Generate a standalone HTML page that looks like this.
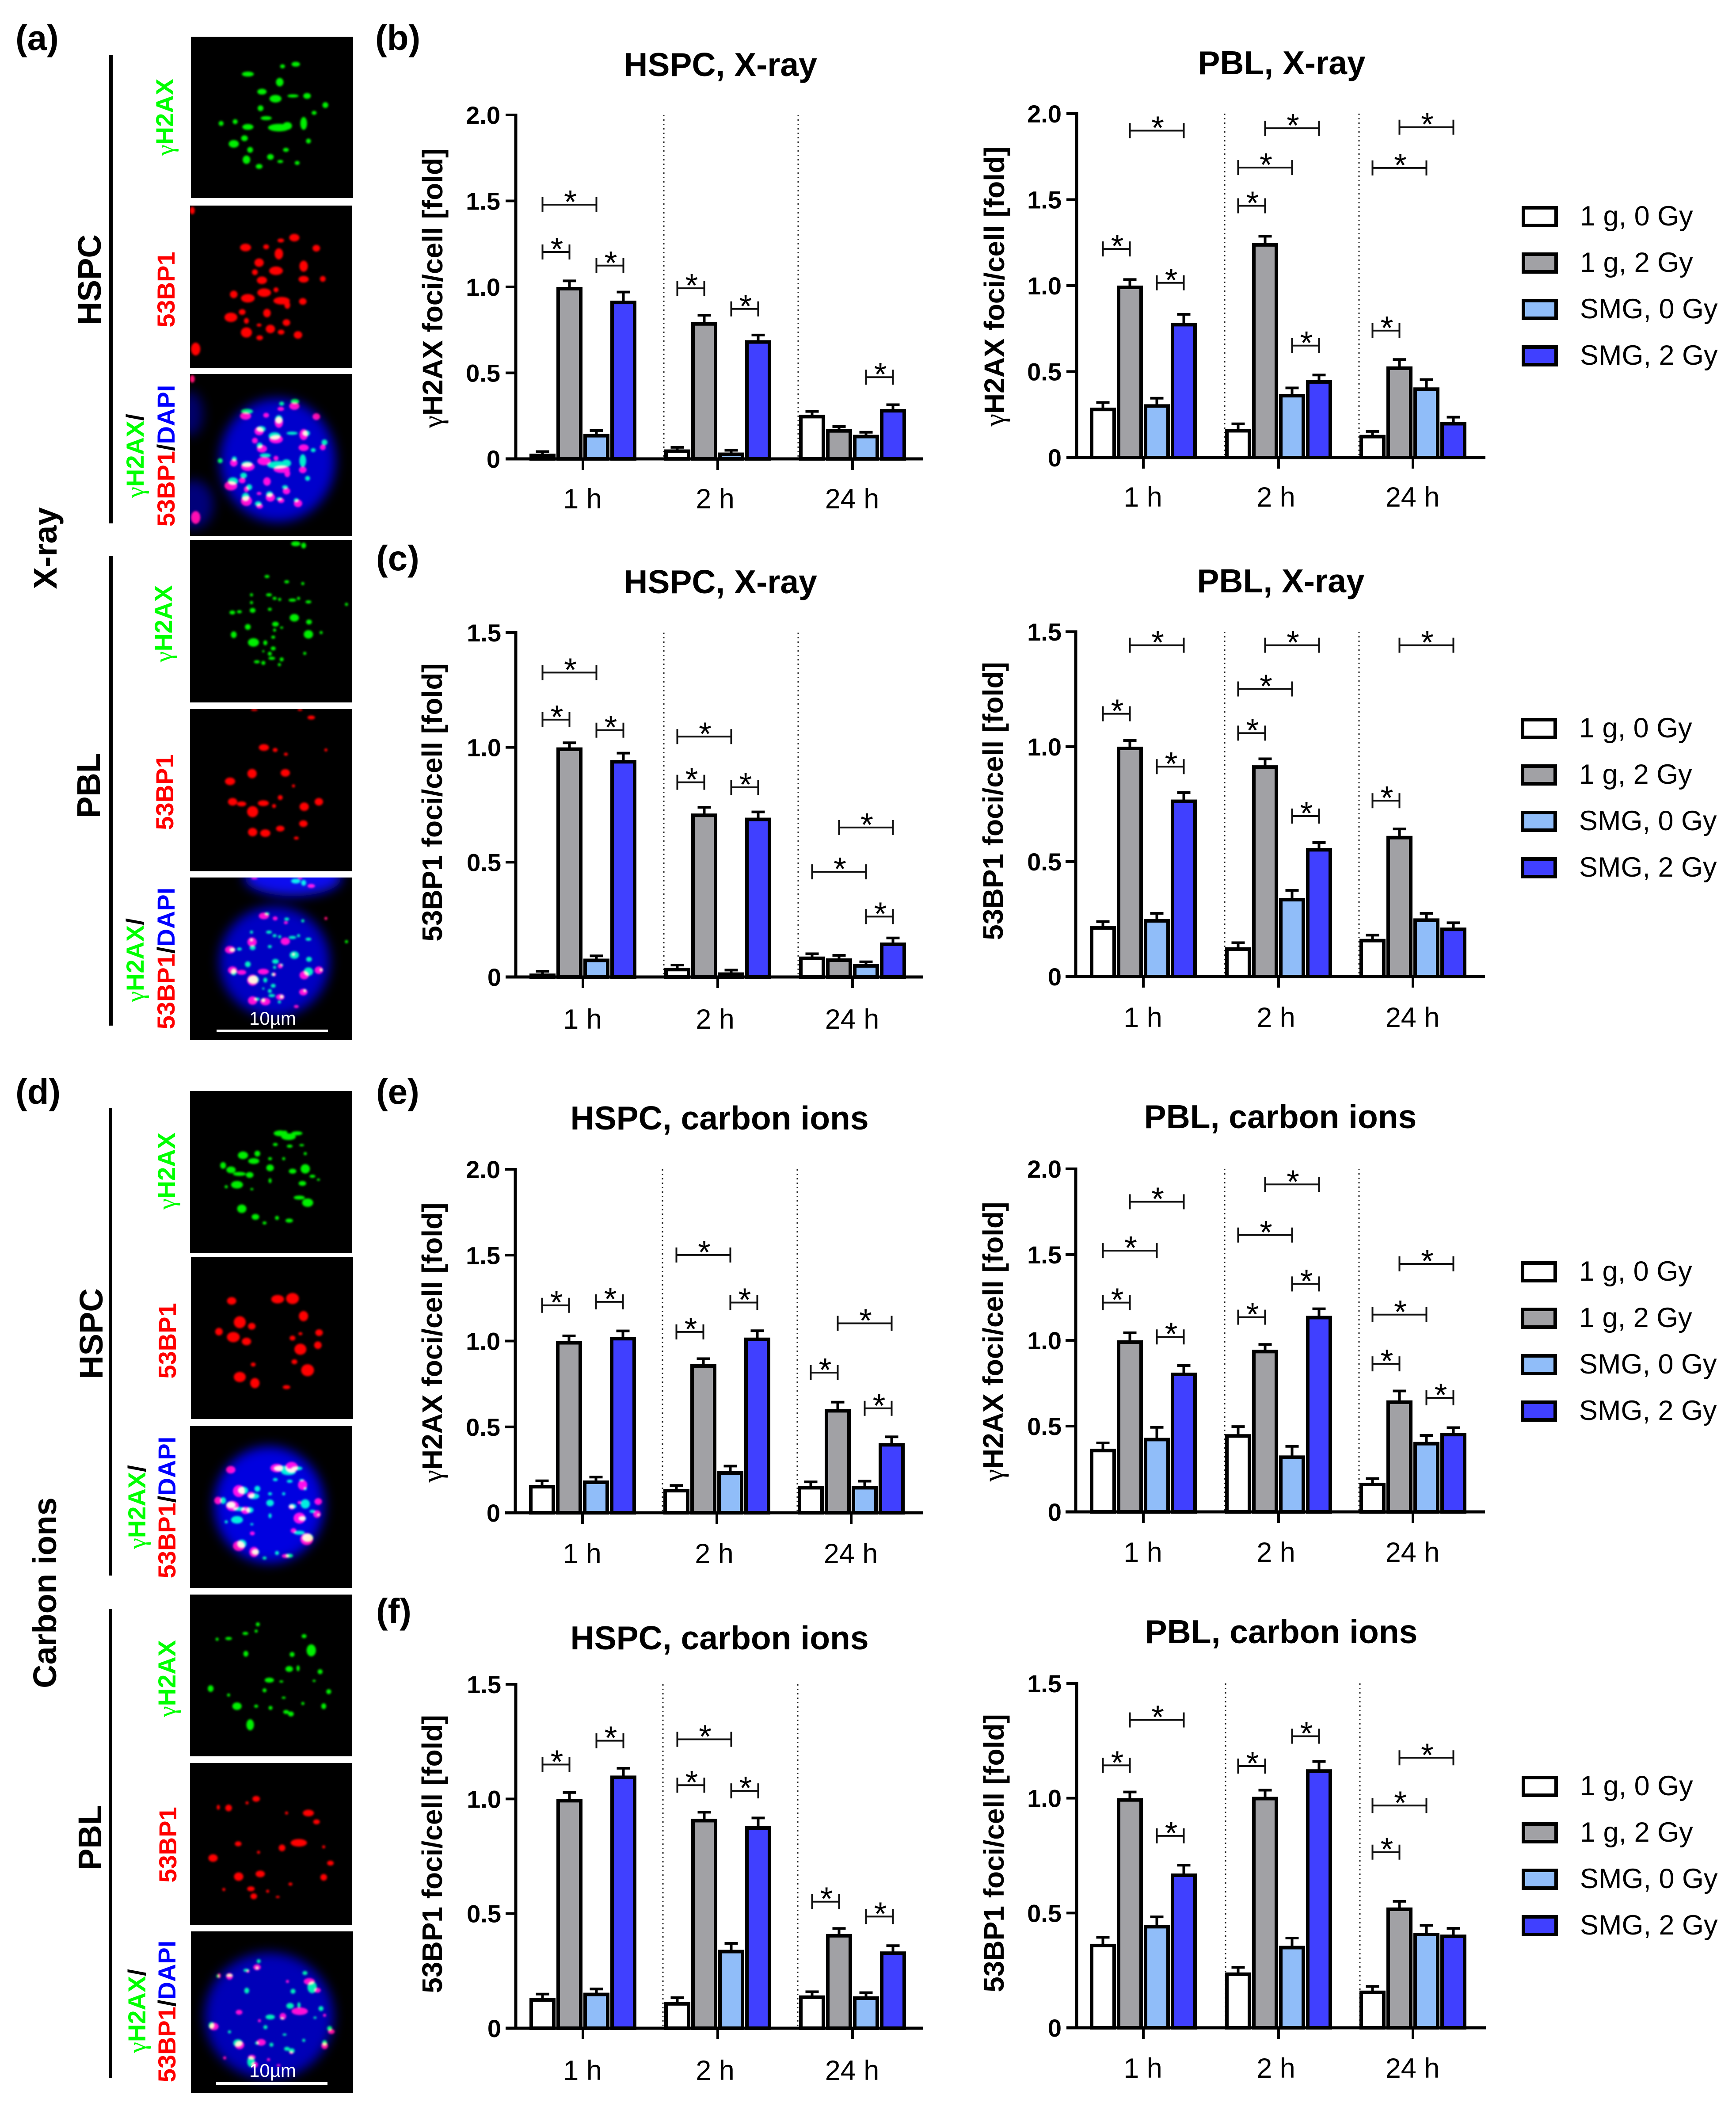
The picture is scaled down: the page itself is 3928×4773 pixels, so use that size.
<!DOCTYPE html>
<html lang="en">
<head>
<meta charset="utf-8">
<title>Foci per cell figure</title>
<style>
html,body{margin:0;padding:0;background:#fff}
svg{display:block}
text{font-family:"Liberation Sans",sans-serif;fill:#000}
.b{font-weight:700}
.g{font-family:"Liberation Serif",serif;font-weight:400}
.side{font-size:74px;font-weight:700}
.il{font-size:56px;font-weight:700}
.pl{font-size:80px;font-weight:700}
</style>
</head>
<body>
<svg id="fig" xmlns="http://www.w3.org/2000/svg" width="3928" height="4773" viewBox="0 0 3928 4773">
<defs>
<filter id="soft" x="-10%" y="-10%" width="120%" height="120%"><feGaussianBlur stdDeviation="2.4"/></filter>
<filter id="nuc" x="-30%" y="-30%" width="160%" height="160%"><feGaussianBlur stdDeviation="13"/></filter>
</defs>
<rect width="3928" height="4773" fill="#fff"/>

<text class="pl" x="35" y="113">(a)</text>
<text class="pl" x="849" y="113">(b)</text>
<text class="pl" x="851" y="1290">(c)</text>
<text class="pl" x="35" y="2497">(d)</text>
<text class="pl" x="851" y="2497">(e)</text>
<text class="pl" x="851" y="3672">(f)</text>

<text class="side" text-anchor="middle" transform="translate(128,1240) rotate(-90)">X-ray</text>
<text class="side" text-anchor="middle" transform="translate(127,3603) rotate(-90)">Carbon ions</text>
<text class="side" text-anchor="middle" transform="translate(228,633) rotate(-90)">HSPC</text>
<text class="side" text-anchor="middle" transform="translate(226,1777) rotate(-90)">PBL</text>
<text class="side" text-anchor="middle" transform="translate(232,3017) rotate(-90)">HSPC</text>
<text class="side" text-anchor="middle" transform="translate(229,4157) rotate(-90)">PBL</text>

<rect x="247" y="124" width="8" height="1060" fill="#000"/>
<rect x="247" y="1258" width="8" height="1062" fill="#000"/>
<rect x="246" y="2506" width="7" height="1058" fill="#000"/>
<rect x="246" y="3640" width="7" height="1060" fill="#000"/>

<g id="micro"></g>

<g class="il">
<text style="fill:#00ff00" text-anchor="middle" transform="translate(392,265) rotate(-90)"><tspan class="g" style="fill:#00ff00">γ</tspan>H2AX</text>
<text style="fill:#ff0000" text-anchor="middle" transform="translate(395,655) rotate(-90)">53BP1</text>
<text style="fill:#00ff00" text-anchor="middle" transform="translate(325,1031) rotate(-90)"><tspan class="g" style="fill:#00ff00">γ</tspan>H2AX<tspan style="fill:#000">/</tspan></text>
<text text-anchor="middle" transform="translate(395,1031) rotate(-90)"><tspan style="fill:#ff0000">53BP1</tspan>/<tspan style="fill:#0000ff">DAPI</tspan></text>

<text style="fill:#00ff00" text-anchor="middle" transform="translate(389,1411) rotate(-90)"><tspan class="g" style="fill:#00ff00">γ</tspan>H2AX</text>
<text style="fill:#ff0000" text-anchor="middle" transform="translate(392,1792) rotate(-90)">53BP1</text>
<text style="fill:#00ff00" text-anchor="middle" transform="translate(325,2172) rotate(-90)"><tspan class="g" style="fill:#00ff00">γ</tspan>H2AX<tspan style="fill:#000">/</tspan></text>
<text text-anchor="middle" transform="translate(395,2168) rotate(-90)"><tspan style="fill:#ff0000">53BP1</tspan>/<tspan style="fill:#0000ff">DAPI</tspan></text>

<text style="fill:#00ff00" text-anchor="middle" transform="translate(396,2649) rotate(-90)"><tspan class="g" style="fill:#00ff00">γ</tspan>H2AX</text>
<text style="fill:#ff0000" text-anchor="middle" transform="translate(398,3033) rotate(-90)">53BP1</text>
<text style="fill:#00ff00" text-anchor="middle" transform="translate(329,3409) rotate(-90)"><tspan class="g" style="fill:#00ff00">γ</tspan>H2AX<tspan style="fill:#000">/</tspan></text>
<text text-anchor="middle" transform="translate(397,3410) rotate(-90)"><tspan style="fill:#ff0000">53BP1</tspan>/<tspan style="fill:#0000ff">DAPI</tspan></text>

<text style="fill:#00ff00" text-anchor="middle" transform="translate(397,3797) rotate(-90)"><tspan class="g" style="fill:#00ff00">γ</tspan>H2AX</text>
<text style="fill:#ff0000" text-anchor="middle" transform="translate(399,4173) rotate(-90)">53BP1</text>
<text style="fill:#00ff00" text-anchor="middle" transform="translate(329,4549) rotate(-90)"><tspan class="g" style="fill:#00ff00">γ</tspan>H2AX<tspan style="fill:#000">/</tspan></text>
<text text-anchor="middle" transform="translate(397,4550) rotate(-90)"><tspan style="fill:#ff0000">53BP1</tspan>/<tspan style="fill:#0000ff">DAPI</tspan></text>
</g>

<g id="charts"></g>

<rect x="490" y="2329" width="252" height="6" fill="#fff"/>
<text x="564" y="2318" font-size="42" style="fill:#fff">10µm</text>
<rect x="489" y="4710" width="252" height="6" fill="#fff"/>
<text x="564" y="4698" font-size="42" style="fill:#fff">10µm</text>
</svg>

<script>
// ---- shared categories and tick labels ----
const timeCategories = ['1 h', '2 h', '24 h'];
const seriesLabels = ['1 g, 0 Gy', '1 g, 2 Gy', 'SMG, 0 Gy', 'SMG, 2 Gy'];
const ticksTwo = [0, 0.5, 1, 1.5, 2];
const tickLabelsTwo = ['0', '0.5', '1.0', '1.5', '2.0'];
const ticksOneHalf = [0, 0.5, 1, 1.5];
const tickLabelsOneHalf = ['0', '0.5', '1.0', '1.5'];

// ---- (b) HSPC X-ray, gamma-H2AX ----
const bLeft1g0 = [0.03, 0.055, 0.256];
const bLeft1g2 = [1.0, 0.795, 0.173];
const bLeftSmg0 = [0.145, 0.037, 0.14];
const bLeftSmg2 = [0.92, 0.69, 0.29];
const bLeftErr1g0 = [0.012, 0.012, 0.02];
const bLeftErr1g2 = [0.035, 0.04, 0.015];
const bLeftErrSmg0 = [0.02, 0.013, 0.015];
const bLeftErrSmg2 = [0.05, 0.03, 0.025];
const bLeftBrackets = [[0,0,2,1.478],[0,0,1,1.203],[0,2,3,1.124],[1,0,1,0.992],[1,2,3,0.872],[2,2,3,0.475]];

// ---- (b) PBL X-ray, gamma-H2AX ----
const bRight1g0 = [0.29, 0.166, 0.132];
const bRight1g2 = [1.0, 1.247, 0.53];
const bRightSmg0 = [0.31, 0.37, 0.408];
const bRightSmg2 = [0.783, 0.45, 0.207];
const bRightErr1g0 = [0.03, 0.03, 0.02];
const bRightErr1g2 = [0.035, 0.04, 0.04];
const bRightErrSmg0 = [0.035, 0.035, 0.045];
const bRightErrSmg2 = [0.05, 0.03, 0.028];
const bRightBrackets = [[0,1,3,1.901],[0,0,1,1.213],[0,2,3,1.016],[1,1,3,1.915],[1,0,2,1.686],[1,0,1,1.464],[1,2,3,0.651],[2,1,3,1.921],[2,0,2,1.684],[2,0,1,0.738]];

// ---- (c) HSPC X-ray, 53BP1 ----
const cLeft1g0 = [0.015, 0.04, 0.089];
const cLeft1g2 = [1.0, 0.712, 0.081];
const cLeftSmg0 = [0.08, 0.02, 0.056];
const cLeftSmg2 = [0.945, 0.694, 0.15];
const cLeftErr1g0 = [0.01, 0.012, 0.012];
const cLeftErr1g2 = [0.02, 0.027, 0.013];
const cLeftErrSmg0 = [0.012, 0.01, 0.01];
const cLeftErrSmg2 = [0.03, 0.025, 0.02];
const cLeftBrackets = [[0,0,2,1.326],[0,0,1,1.121],[0,2,3,1.075],[1,0,2,1.047],[1,0,1,0.848],[1,2,3,0.826],[2,1,3,0.651],[2,0,2,0.458],[2,2,3,0.263]];

// ---- (c) PBL X-ray, 53BP1 ----
const cRight1g0 = [0.219, 0.127, 0.164];
const cRight1g2 = [1.0, 0.919, 0.612];
const cRightSmg0 = [0.25, 0.342, 0.253];
const cRightSmg2 = [0.77, 0.559, 0.213];
const cRightErr1g0 = [0.02, 0.02, 0.016];
const cRightErr1g2 = [0.027, 0.028, 0.03];
const cRightErrSmg0 = [0.025, 0.033, 0.022];
const cRightErrSmg2 = [0.03, 0.024, 0.021];
const cRightBrackets = [[0,1,3,1.441],[0,0,1,1.143],[0,2,3,0.913],[1,1,3,1.441],[1,0,2,1.251],[1,0,1,1.059],[1,2,3,0.698],[2,1,3,1.441],[2,0,1,0.765]];

// ---- (e) HSPC carbon ions, gamma-H2AX ----
const eLeft1g0 = [0.162, 0.139, 0.156];
const eLeft1g2 = [1.0, 0.865, 0.604];
const eLeftSmg0 = [0.188, 0.242, 0.156];
const eLeftSmg2 = [1.024, 1.02, 0.406];
const eLeftErr1g0 = [0.024, 0.02, 0.024];
const eLeftErr1g2 = [0.03, 0.032, 0.04];
const eLeftErrSmg0 = [0.02, 0.03, 0.028];
const eLeftErrSmg2 = [0.035, 0.04, 0.036];
const eLeftBrackets = [[0,0,1,1.208],[0,2,3,1.228],[1,0,2,1.501],[1,0,1,1.053],[1,2,3,1.224],[2,1,3,1.103],[2,0,1,0.816],[2,2,3,0.608]];

// ---- (e) PBL carbon ions, gamma-H2AX ----
const eRight1g0 = [0.368, 0.453, 0.17];
const eRight1g2 = [1.0, 0.945, 0.65];
const eRightSmg0 = [0.432, 0.329, 0.408];
const eRightSmg2 = [0.812, 1.143, 0.461];
const eRightErr1g0 = [0.034, 0.044, 0.024];
const eRightErr1g2 = [0.044, 0.031, 0.055];
const eRightErrSmg0 = [0.061, 0.053, 0.038];
const eRightErrSmg2 = [0.041, 0.041, 0.03];
const eRightBrackets = [[0,1,3,1.808],[0,0,2,1.523],[0,0,1,1.22],[0,2,3,1.02],[1,1,3,1.909],[1,0,2,1.614],[1,2,3,1.329],[1,0,1,1.135],[2,1,3,1.446],[2,0,2,1.15],[2,0,1,0.863],[2,2,3,0.665]];

// ---- (f) HSPC carbon ions, 53BP1 ----
const fLeft1g0 = [0.131, 0.114, 0.143];
const fLeft1g2 = [1.0, 0.913, 0.411];
const fLeftSmg0 = [0.155, 0.342, 0.139];
const fLeftSmg2 = [1.102, 0.881, 0.335];
const fLeftErr1g0 = [0.018, 0.019, 0.016];
const fLeftErr1g2 = [0.028, 0.029, 0.024];
const fLeftErrSmg0 = [0.016, 0.028, 0.016];
const fLeftErrSmg2 = [0.032, 0.036, 0.025];
const fLeftBrackets = [[0,0,1,1.15],[0,2,3,1.254],[1,0,2,1.26],[1,0,1,1.06],[1,2,3,1.035],[2,0,1,0.552],[2,2,3,0.487]];

// ---- (f) PBL carbon ions, 53BP1 ----
const fRight1g0 = [0.366, 0.241, 0.162];
const fRight1g2 = [1.0, 1.006, 0.524];
const fRightSmg0 = [0.448, 0.357, 0.414];
const fRightSmg2 = [0.672, 1.126, 0.406];
const fRightErr1g0 = [0.028, 0.022, 0.018];
const fRightErr1g2 = [0.027, 0.029, 0.027];
const fRightErrSmg0 = [0.035, 0.034, 0.032];
const fRightErrSmg2 = [0.036, 0.034, 0.027];
const fRightBrackets = [[0,1,3,1.341],[0,0,1,1.143],[0,2,3,0.836],[1,0,1,1.14],[1,2,3,1.27],[2,1,3,1.176],[2,0,2,0.968],[2,0,1,0.765]];

const NS = 'http://www.w3.org/2000/svg';
function mk(tag, attrs, parent) {
  const el = document.createElementNS(NS, tag);
  for (const k in attrs) el.setAttribute(k, attrs[k]);
  parent.appendChild(el);
  return el;
}

const seriesFills = ['#ffffff', '#a1a1a5', '#90bdf9', '#4040ff'];
const leftTicks = [1319, 1624, 1929];
const rightTicks = [2587, 2893, 3197];
const leftDots = [1502, 1806];
const rightDots = [2771, 3075];

const chartList = [
  {id:'b-left', title:'HSPC, X-ray', tx:1630, ty:172, x0:1167, end:2089, top:260, y0:1038, max:2, ticks:ticksTwo, tl:tickLabelsTwo, xt:leftTicks, dots:leftDots, lab:'g', lx:1001, ly:652, lblEnd:1132, xy:1150,
   s:[bLeft1g0,bLeft1g2,bLeftSmg0,bLeftSmg2], e:[bLeftErr1g0,bLeftErr1g2,bLeftErrSmg0,bLeftErrSmg2], br:bLeftBrackets},
  {id:'b-right', title:'PBL, X-ray', tx:2900, ty:168, x0:2436, end:3361, top:257, y0:1035, max:2, ticks:ticksTwo, tl:tickLabelsTwo, xt:rightTicks, dots:rightDots, lab:'g', lx:2272, ly:648, lblEnd:2402, xy:1146,
   s:[bRight1g0,bRight1g2,bRightSmg0,bRightSmg2], e:[bRightErr1g0,bRightErr1g2,bRightErrSmg0,bRightErrSmg2], br:bRightBrackets, legendX:3443, legendTop:490},
  {id:'c-left', title:'HSPC, X-ray', tx:1630, ty:1342, x0:1167, end:2089, top:1431, y0:2210, max:1.5, ticks:ticksOneHalf, tl:tickLabelsOneHalf, xt:leftTicks, dots:leftDots, lab:'5', lx:1000, ly:1815, lblEnd:1134, xy:2327,
   s:[cLeft1g0,cLeft1g2,cLeftSmg0,cLeftSmg2], e:[cLeftErr1g0,cLeftErr1g2,cLeftErrSmg0,cLeftErrSmg2], br:cLeftBrackets},
  {id:'c-right', title:'PBL, X-ray', tx:2898, ty:1340, x0:2434, end:3360, top:1429, y0:2209, max:1.5, ticks:ticksOneHalf, tl:tickLabelsOneHalf, xt:rightTicks, dots:rightDots, lab:'5', lx:2269, ly:1812, lblEnd:2402, xy:2323,
   s:[cRight1g0,cRight1g2,cRightSmg0,cRightSmg2], e:[cRightErr1g0,cRightErr1g2,cRightErrSmg0,cRightErrSmg2], br:cRightBrackets, legendX:3441, legendTop:1648},
  {id:'e-left', title:'HSPC, carbon ions', tx:1628, ty:2555, x0:1166, end:2089, top:2645, y0:3422, max:2, ticks:ticksTwo, tl:tickLabelsTwo, xt:[1318,1622,1926], dots:[1499,1804], lab:'g', lx:1000, ly:3037, lblEnd:1132, xy:3536,
   s:[eLeft1g0,eLeft1g2,eLeftSmg0,eLeftSmg2], e:[eLeftErr1g0,eLeftErr1g2,eLeftErrSmg0,eLeftErrSmg2], br:eLeftBrackets},
  {id:'e-right', title:'PBL, carbon ions', tx:2897, ty:2552, x0:2434, end:3360, top:2644, y0:3420, max:2, ticks:ticksTwo, tl:tickLabelsTwo, xt:rightTicks, dots:rightDots, lab:'g', lx:2269, ly:3035, lblEnd:2402, xy:3533,
   s:[eRight1g0,eRight1g2,eRightSmg0,eRightSmg2], e:[eRightErr1g0,eRightErr1g2,eRightErrSmg0,eRightErrSmg2], br:eRightBrackets, legendX:3441, legendTop:2877},
  {id:'f-left', title:'HSPC, carbon ions', tx:1628, ty:3731, x0:1167, end:2089, top:3810, y0:4588, max:1.5, ticks:ticksOneHalf, tl:tickLabelsOneHalf, xt:leftTicks, dots:[1500,1805], lab:'5', lx:1000, ly:4194, lblEnd:1134, xy:4705,
   s:[fLeft1g0,fLeft1g2,fLeftSmg0,fLeftSmg2], e:[fLeftErr1g0,fLeftErr1g2,fLeftErrSmg0,fLeftErrSmg2], br:fLeftBrackets},
  {id:'f-right', title:'PBL, carbon ions', tx:2899, ty:3717, x0:2436, end:3362, top:3808, y0:4587, max:1.5, ticks:ticksOneHalf, tl:tickLabelsOneHalf, xt:rightTicks, dots:[2773,3077], lab:'5', lx:2271, ly:4192, lblEnd:2402, xy:4700,
   s:[fRight1g0,fRight1g2,fRightSmg0,fRightSmg2], e:[fRightErr1g0,fRightErr1g2,fRightErrSmg0,fRightErrSmg2], br:fRightBrackets, legendX:3443, legendTop:4041}
];

const chartsRoot = document.getElementById('charts');
const BAR_STEP = 61, BAR_W = 59, STROKE = 8;

chartList.forEach(function (c) {
  const g = mk('g', {}, chartsRoot);
  
  
  const yScale = function (v) { return c.y0 - v / c.max * (c.y0 - c.top); };
  const xScale = function (grp, i) { return c.xt[grp] + (i - 1.5) * BAR_STEP; };

  const title = mk('text', {x:c.tx, y:c.ty, 'text-anchor':'middle', 'font-size':75, 'font-weight':700}, g);
  title.textContent = c.title;
  
  

  const yTitle = mk('text', {transform:'translate(' + c.lx + ',' + c.ly + ') rotate(-90)', 'text-anchor':'middle', 'font-size':64, 'font-weight':700}, g);
  if (c.lab === 'g') {
    const t = mk('tspan', {class:'g'}, yTitle);
    t.textContent = 'γ';
    yTitle.appendChild(document.createTextNode('H2AX foci/cell [fold]'));
  } else {
    yTitle.textContent = '53BP1 foci/cell [fold]';
  }
  
  

  c.dots.forEach(function (dx) {
    const d = mk('line', {x1:dx, x2:dx, y1:c.top, y2:c.y0, stroke:'#222', 'stroke-width':3, 'stroke-dasharray':'3 7'}, g);
    
    
  });

  c.s.forEach(function (vals, i) {
    vals.forEach(function (v, grp) {
      const cx = xScale(grp, i);
      const ytop = yScale(v);
      const yErr = yScale(v + c.e[i][grp]);
      const stem = mk('line', {x1:cx, x2:cx, y1:ytop + 2, y2:yErr, stroke:'#000', 'stroke-width':6}, g);
      
      
      const cap = mk('line', {x1:cx - 15, x2:cx + 15, y1:yErr, y2:yErr, stroke:'#000', 'stroke-width':6}, g);
      
      

      const bar = mk('rect', {x:cx - BAR_W / 2 + STROKE / 2, y:ytop + STROKE / 2, width:BAR_W - STROKE, height:Math.max(0, c.y0 - ytop - STROKE / 2), fill:seriesFills[i], stroke:'#000', 'stroke-width':STROKE}, g);
      
      
    });
  });

  const yAxis = mk('line', {x1:c.x0, x2:c.x0, y1:c.top - 3, y2:c.y0 + 3, stroke:'#000', 'stroke-width':7}, g);
  
  
  const xAxis = mk('line', {x1:c.x0 - 23, x2:c.end, y1:c.y0, y2:c.y0, stroke:'#000', 'stroke-width':7}, g);
  
  

  c.ticks.forEach(function (v, k) {
    const yy = yScale(v);
    const tk = mk('line', {x1:c.x0 - 23, x2:c.x0, y1:yy, y2:yy, stroke:'#000', 'stroke-width':6}, g);
    
    
    const lb = mk('text', {x:c.lblEnd, y:yy + 20, 'text-anchor':'end', 'font-size':56, 'font-weight':700}, g);
    lb.textContent = c.tl[k];
    
    
  });

  timeCategories.forEach(function (cat, grp) {
    const tk = mk('line', {x1:c.xt[grp], x2:c.xt[grp], y1:c.y0, y2:c.y0 + 25, stroke:'#000', 'stroke-width':6}, g);
    
    
    const off = grp === 1 ? -6 : -1;
    const lb = mk('text', {x:c.xt[grp] + off, y:c.xy, 'text-anchor':'middle', 'font-size':63}, g);
    lb.textContent = cat;
    
    
  });

  c.br.forEach(function (b) {
    const xa = xScale(b[0], b[1]);
    const xb = xScale(b[0], b[2]);
    const yy = yScale(b[3]);
    const br = mk('path', {d:'M' + xa + ' ' + (yy - 17) + 'V' + (yy + 17) + 'M' + xa + ' ' + yy + 'H' + xb + 'M' + xb + ' ' + (yy - 17) + 'V' + (yy + 17), fill:'none', stroke:'#111', 'stroke-width':4}, g);
    
    
    const st = mk('text', {x:(xa + xb) / 2 + 2, y:yy + 19, 'text-anchor':'middle', 'font-size':74}, g);
    st.textContent = '*';
    
    
  });

  if (c.legendX) {
    seriesLabels.forEach(function (name, i) {
      const ly = c.legendTop + i * 105;
      const sw = mk('rect', {x:c.legendX + 4, y:ly - 20, width:74, height:40, fill:seriesFills[i], stroke:'#000', 'stroke-width':8}, g);
      
      
      const tx = mk('text', {x:c.legendX + 132, y:ly + 20, 'font-size':63}, g);
      tx.textContent = name;
      
      
    });
  }
});

// ---- micrographs ----
const micro = document.getElementById('micro');
const cellA = {sx:1.568, sy:1.254, oy:0,
  gOrigin:[678,104], rOrigin:[675,583],
  green:[[880,210,13,5],[1050,182,9,5],[1003,188,5,4],[993,233,8,9],[930,260,10,6],[978,280,13,8],[1040,272,12,3],[1090,272,8,6],[1155,298,6,6],[925,307,6,6],[945,335,12,4],[880,360,12,6],[835,345,5,5],[785,350,5,5],[990,362,24,8],[1020,357,10,8],[1078,350,7,14],[830,408,11,8],[868,392,7,6],[888,425,6,6],[960,445,7,6],[875,453,8,9],[920,472,7,5],[1015,425,6,4],[1055,462,5,4],[1115,320,5,4],[1095,400,5,5],[995,458,6,3]],
  red:[[872,702,12,8],[945,700,6,5],[997,682,7,4],[1045,674,11,8],[1123,704,8,7],[990,720,9,12],[920,745,10,9],[980,768,15,9],[1078,755,9,12],[905,772,6,6],[930,795,11,8],[1078,792,11,7],[1146,791,6,6],[830,835,8,8],[880,846,15,9],[938,830,15,9],[980,822,5,5],[1000,853,18,8],[1075,855,8,7],[1020,865,6,8],[948,888,8,9],[860,885,7,6],[820,900,14,10],[875,910,5,6],[1017,915,8,7],[875,943,12,11],[960,933,10,9],[998,942,7,5],[1058,950,9,8],[922,958,7,5],[920,922,5,3],[695,990,10,14],[683,597,5,8]],
  frames:[[432,83,367,365],[430,465,367,367],[430,846,367,366]],
  nuclei:[[198,195,131,140,'#0606cc'],[0,90,30,50,'#04046a'],[8,295,45,55,'#04047a']]};
const cellB = {sx:1.568, sy:1.254, oy:1150,
  gOrigin:[675,90], rOrigin:[675,569],
  green:[[948,193,5,3],[1018,208,5,3],[1075,213,3,3],[893,245,3,3],[955,245,6,3],[975,255,4,3],[993,258,3,3],[1038,260,8,3],[1060,255,3,3],[1095,265,6,3],[1230,272,3,3],[893,267,3,3],[825,295,6,4],[850,293,5,3],[897,289,6,5],[958,286,4,3],[1045,310,10,8],[1097,322,6,5],[880,336,6,6],[978,328,7,5],[975,345,3,3],[1000,338,3,2],[830,358,6,7],[1095,357,10,9],[1140,352,3,3],[970,365,4,3],[900,380,12,9],[942,381,4,5],[970,397,5,4],[958,412,4,4],[1082,411,3,3],[912,435,6,3],[935,438,4,4],[965,425,7,3],[1000,428,4,4],[992,443,3,3],[935,405,2,2],[1050,100,10,5],[1078,105,5,6]],
  red:[[937,678,11,7],[977,685,5,4],[1015,697,4,3],[1157,685,3,3],[1105,593,8,4],[903,571,7,2],[1065,571,5,2],[895,752,10,10],[1013,750,10,8],[817,774,11,8],[1042,787,3,3],[995,820,5,5],[826,832,10,8],[858,838,10,5],[897,860,12,12],[935,836,12,6],[973,844,4,4],[1080,846,10,9],[1132,832,9,8],[897,918,10,9],[942,921,11,8],[995,908,9,6],[1077,894,9,7],[1052,935,5,3]],
  frames:[[430,1222,367,367],[430,1604,367,367],[430,1985,367,368]],
  nuclei:[[191,190,125,125,'#0606c4'],[233,0,110,42,'#0808f0']]};
const cellD = {sx:1.845, sy:1.3067, oy:2380,
  gOrigin:[794,115], rOrigin:[798,606],
  green:[[1170,240,14,6],[1205,250,16,7],[1240,240,12,4],[1190,238,5,4],[1150,273,5,3],[1210,278,6,3],[1260,275,5,2],[1015,305,11,8],[1075,300,6,6],[1060,322,12,6],[1128,342,8,7],[1128,315,4,3],[1185,315,3,3],[1275,345,10,10],[1222,352,8,5],[932,335,6,7],[965,348,10,7],[1000,360,14,4],[1043,363,8,6],[1128,380,3,5],[1263,388,8,5],[1305,367,6,3],[990,392,13,8],[945,398,3,3],[1250,430,12,4],[1285,445,12,9],[1010,463,10,9],[1067,487,8,6],[1105,505,4,3],[1157,490,4,4],[1208,498,8,4],[1052,405,3,2],[1275,300,3,3],[1330,377,3,2]],
  red:[[968,735,10,8],[1160,730,14,9],[1222,728,14,12],[1002,798,13,13],[1052,810,8,7],[1268,780,10,11],[915,826,8,8],[975,842,14,11],[1030,855,10,8],[1333,829,8,7],[1222,845,6,5],[1328,866,8,8],[1255,878,13,12],[1230,915,6,5],[1285,940,14,13],[1058,923,5,4],[1002,960,13,11],[1065,978,10,11],[1197,990,8,4],[1255,832,4,3]],
  frames:[[430,2468,367,366],[432,2844,367,366],[430,3226,367,366]],
  nuclei:[[179,178,125,132,'#0606e0']]};
const cellE = {sx:1.845, sy:1.3067, oy:3573,
  gOrigin:[794,45], rOrigin:[794,542],
  green:[[1077,133,4,4],[1070,153,3,3],[1025,160,6,3],[955,175,7,3],[907,177,3,3],[1027,220,5,6],[1270,168,5,4],[1300,210,10,13],[1220,222,5,5],[1208,265,8,6],[1245,263,3,6],[1337,273,5,5],[1125,298,10,5],[1105,328,4,4],[880,323,6,7],[955,342,3,3],[1373,332,5,5],[990,375,10,8],[1130,380,4,4],[1195,392,6,4],[1215,398,6,5],[1265,367,3,3],[1352,375,5,6],[1045,430,8,12],[1070,375,4,3],[1185,350,4,2],[1312,300,3,2],[1175,302,4,2]],
  red:[[1070,648,8,6],[955,675,7,7],[912,673,3,5],[1032,660,3,3],[1288,690,12,7],[1322,716,7,5],[1197,690,3,3],[1248,778,18,8],[995,781,7,5],[1178,793,7,7],[890,823,10,8],[1352,790,3,3],[1080,806,3,3],[1380,838,7,5],[997,878,10,9],[1087,870,10,7],[1352,880,7,7],[1048,914,8,5],[1060,936,7,6],[935,916,3,3],[1213,900,4,3],[1118,921,3,3],[1160,938,4,2]],
  frames:[[430,3607,367,366],[430,3988,367,367],[432,4369,367,365]],
  nuclei:[[177,191,146,143,'#0606b8']]};

let clipCount = 0;
function drawFoci(parent, list, origin, cell, fill, tx, ty) {
  const grp = mk('g', {filter:'url(#soft)', fill:fill}, parent);
  grp.style.mixBlendMode = 'screen';
  
  
  list.forEach(function (f) {
    mk('ellipse', {cx:tx + (f[0] - origin[0]) / cell.sx, cy:ty + (f[1] - origin[1]) / cell.sy, rx:f[2] + 0.6, ry:f[3] + 0.6}, grp);
  });
}
function frame(box) {
  const id = 'clip' + (clipCount++);
  const cp = mk('clipPath', {id:id}, micro);
  mk('rect', {x:box[0], y:box[1], width:box[2], height:box[3]}, cp);
  const grp = mk('g', {'clip-path':'url(#' + id + ')'}, micro);
  grp.style.isolation = 'isolate';
  
  
  mk('rect', {x:box[0], y:box[1], width:box[2], height:box[3], fill:'#000'}, grp);
  return grp;
}
[cellA, cellB, cellD, cellE].forEach(function (cell) {
  const fg = cell.frames[0], fr = cell.frames[1], fm = cell.frames[2];
  drawFoci(frame(fg), cell.green, cell.gOrigin, cell, '#00f000', fg[0], fg[1]);
  drawFoci(frame(fr), cell.red, cell.rOrigin, cell, '#ff0000', fr[0], fr[1]);
  const m = frame(fm);
  const nuc = mk('g', {filter:'url(#nuc)'}, m);
  
  
  cell.nuclei.forEach(function (n) {
    mk('ellipse', {cx:fm[0] + n[0], cy:fm[1] + n[1], rx:n[2], ry:n[3], fill:n[4]}, nuc);
  });
  drawFoci(m, cell.red, cell.rOrigin, cell, '#ff1070', fm[0], fm[1]);
  drawFoci(m, cell.green, cell.gOrigin, cell, '#00f000', fm[0], fm[1]);
});
</script>
</body>
</html>
